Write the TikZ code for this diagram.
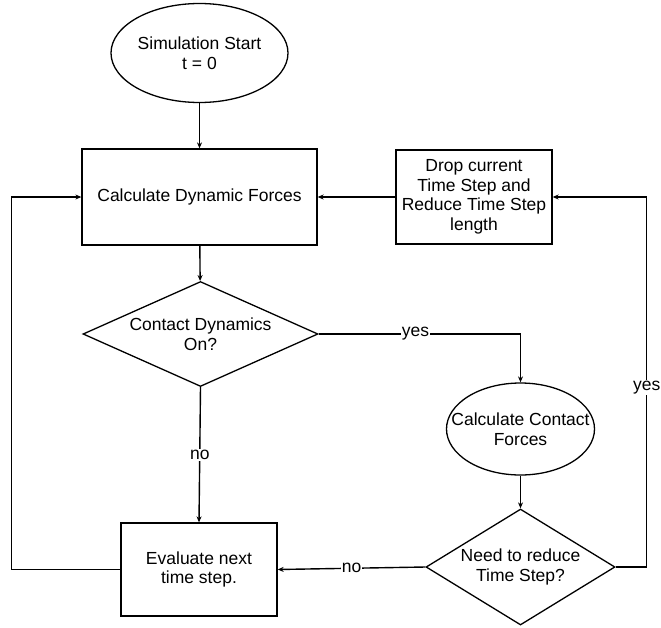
\documentclass[tikz,border=0pt]{standalone}
\usepackage{fontspec}
\setmainfont{Liberation Sans}
\usetikzlibrary{shapes.geometric,arrows.meta}
\begin{document}
\begin{tikzpicture}[x=1pt,y=-1pt,
  every node/.style={font=\fontsize{17.5}{19.5}\selectfont, align=center},
  box/.style={draw, line width=1.3pt, rectangle, inner sep=0pt},
  oval/.style={draw, line width=1.3pt, ellipse, inner ysep=0pt, inner xsep=-25pt},
  decision/.style={draw, line width=1.3pt, diamond, inner sep=0pt},
  arr/.style={line width=1.4pt, -{Stealth[length=6pt,width=5pt]}},
  lbl/.style={fill=white, inner sep=1pt}]
\useasboundingbox (0,0) rectangle (661,627);

% process steps
\node[oval, minimum width=177pt, minimum height=99pt] (start) at (199.5,53) {Simulation Start\\t = 0};
\node[box, minimum width=235pt, minimum height=96pt] (calc) at (199.5,197) {Calculate Dynamic Forces};
\node[box, minimum width=156pt, minimum height=94pt] (drop) at (474,197) {Drop current\\Time Step and\\Reduce Time Step\\length};
\node[decision, shape aspect=2.24, minimum width=235pt, minimum height=105pt] (cdon) at (200.5,334) {Contact Dynamics\\On?};
\node[oval, minimum width=148pt, minimum height=92pt] (cforce) at (520.5,429) {Calculate Contact\\Forces};
\node[decision, shape aspect=1.63, minimum width=189pt, minimum height=116pt] (need) at (520.5,567) {Need to reduce\\Time Step?};
\node[box, minimum width=156pt, minimum height=93pt] (eval) at (199,569.5) {Evaluate next\\time step.};

% connectors
\draw[arr] (start) -- (calc);
\draw[arr] (calc) -- (cdon);
\draw[arr] (cdon.east) -| node[lbl, pos=0.24] {yes} (cforce.north);
\draw[arr] (cforce) -- (need);
\draw[arr] (need.west) -- node[lbl] {no} (eval.east);
\draw[arr] (cdon.south) -- node[lbl] {no} (eval.north);
\draw[arr] (need.east) -- ++(31,0) |- node[lbl, pos=0.242] {yes} (drop.east);
\draw[arr] (drop.west) -- (calc.east);
\draw[arr] (eval.west) -- ++(-109,0) |- (calc.west);
\end{tikzpicture}
\end{document}
